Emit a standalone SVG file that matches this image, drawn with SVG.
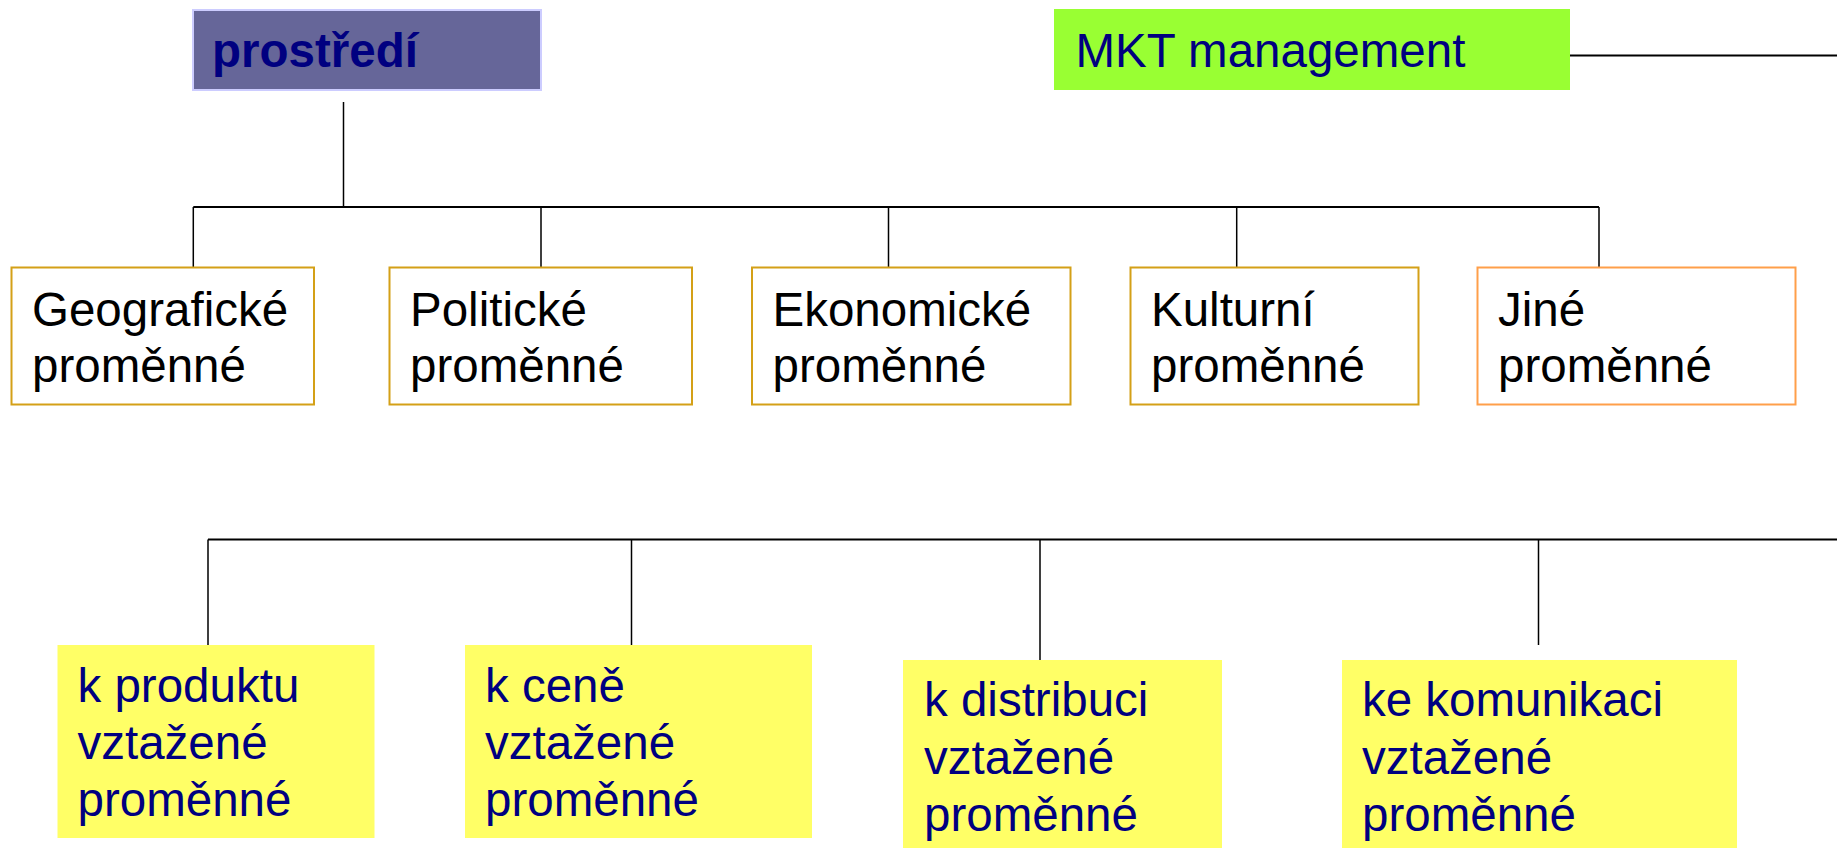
<svg xmlns="http://www.w3.org/2000/svg" width="1837" height="848" viewBox="0 0 1837 848">
<style>
text{font-family:"Liberation Sans",Arial,sans-serif;font-size:47.5px}
.nv{fill:#000080}
.bk{fill:#000}
.l2{fill:#fff;stroke:#d4a017;stroke-width:2}
.l2o{fill:#fff;stroke:#ff9f4a;stroke-width:2}
.l3{fill:#ffff66}
.c{stroke:#000;fill:none}
</style>
<rect width="1837" height="848" fill="#fff"/>
<g id="connectors">
<path class="c" stroke-width="1.5" d="M343.5,102V207"/>
<path class="c" stroke-width="2" d="M193.3,207H1599"/>
<path class="c" stroke-width="1.5" d="M193.3,207V267M541,207V267M888.5,207V267M1236.7,207V267M1599,207V267"/>
<path class="c" stroke-width="2" d="M1570,55.5H1837"/>
<path class="c" stroke-width="2" d="M208,539.5H1837"/>
<path class="c" stroke-width="1.5" d="M208,539.5V645M631.5,539.5V645M1040,539.5V660M1538.5,539.5V645"/>
</g>
<g id="prostredi">
<rect x="193" y="10" width="348" height="80" fill="#666699" stroke="#ccccff" stroke-width="2"/>
<text x="212" y="67" class="nv" font-weight="bold">prostředí</text>
</g>
<g id="mkt">
<rect x="1054" y="9" width="516" height="81" fill="#99ff33"/>
<text x="1075.5" y="67" class="nv">MKT management</text>
</g>
<g id="geograficke">
<rect class="l2" x="11.5" y="267.5" width="302.5" height="137"/>
<text x="32" y="326" class="bk">Geografické</text>
<text x="32" y="382" class="bk">proměnné</text>
</g>
<g id="politicke">
<rect class="l2" x="389.5" y="267.5" width="302.5" height="137"/>
<text x="410" y="326" class="bk">Politické</text>
<text x="410" y="382" class="bk">proměnné</text>
</g>
<g id="ekonomicke">
<rect class="l2" x="752" y="267.5" width="318.5" height="137"/>
<text x="772.5" y="326" class="bk">Ekonomické</text>
<text x="772.5" y="382" class="bk">proměnné</text>
</g>
<g id="kulturni">
<rect class="l2" x="1130.5" y="267.5" width="288" height="137"/>
<text x="1151" y="326" class="bk">Kulturní</text>
<text x="1151" y="382" class="bk">proměnné</text>
</g>
<g id="jine">
<rect class="l2o" x="1477.5" y="267.5" width="318" height="137"/>
<text x="1498" y="326" class="bk">Jiné</text>
<text x="1498" y="382" class="bk">proměnné</text>
</g>
<g id="produkt">
<rect class="l3" x="57.5" y="645" width="317" height="193"/>
<text x="77.5" y="702" class="nv">k produktu</text>
<text x="77.5" y="759" class="nv">vztažené</text>
<text x="77.5" y="816" class="nv">proměnné</text>
</g>
<g id="cena">
<rect class="l3" x="465" y="645" width="347" height="193"/>
<text x="485" y="702" class="nv">k ceně</text>
<text x="485" y="759" class="nv">vztažené</text>
<text x="485" y="816" class="nv">proměnné</text>
</g>
<g id="distribuce">
<rect class="l3" x="903" y="660" width="319" height="190"/>
<text x="924" y="716" class="nv">k distribuci</text>
<text x="924" y="774" class="nv">vztažené</text>
<text x="924" y="831" class="nv">proměnné</text>
</g>
<g id="komunikace">
<rect class="l3" x="1342" y="660" width="395" height="190"/>
<text x="1362" y="716" class="nv">ke komunikaci</text>
<text x="1362" y="774" class="nv">vztažené</text>
<text x="1362" y="831" class="nv">proměnné</text>
</g>
</svg>
